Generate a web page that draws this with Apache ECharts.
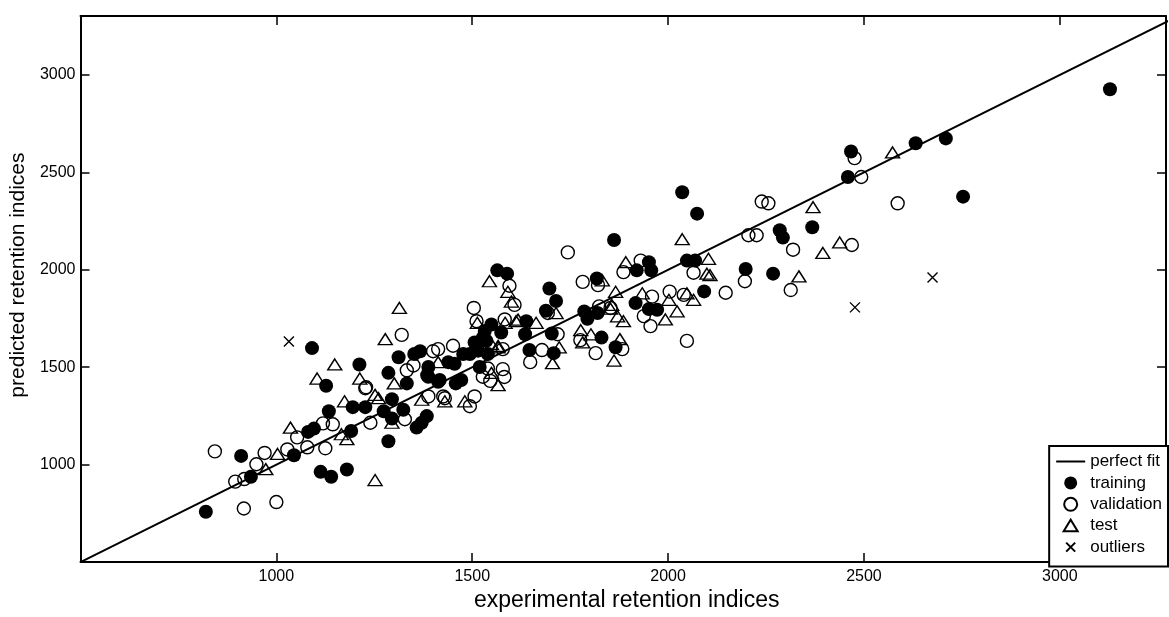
<!DOCTYPE html>
<html>
<head>
<meta charset="utf-8">
<script src="https://cdn.jsdelivr.net/npm/echarts@6/dist/echarts.min.js"></script>
<style>
html,body{margin:0;padding:0;background:#fff;}
#chart{width:1169px;height:617px;}
</style>
</head>
<body>
<div id="chart"></div>
<script>
// ---- data (experimental RI, predicted RI) ----
const xTickLabels = [1000, 1500, 2000, 2500, 3000];
const yTickLabels = [1000, 1500, 2000, 2500, 3000];
const perfectFit = [[500, 500], [3310, 3310]];

const training = [
  [820,758],[910,1045],[935,938],[1045,1048],[1081,1168],[1096,1185],[1113,963],[1140,938],
  [1180,975],[1134,1274],[1191,1173],[1286,1120],[1195,1295],[1227,1295],[1274,1274],[1295,1336],
  [1324,1282],[1295,1237],[1091,1598],[1212,1514],[1127,1405],[1286,1471],[1312,1551],[1352,1568],
  [1367,1582],[1388,1501],[1385,1459],[1413,1425],[1333,1417],[1439,1526],[1455,1518],[1458,1417],
  [1472,1434],[1519,1501],[1494,1568],[1506,1627],[1527,1652],[1549,1719],[1574,1678],[1384,1249],
  [1371,1215],[1358,1190],[1862,2153],[1564,1997],[1589,1980],[1697,1904],[1714,1840],[1688,1790],
  [1638,1736],[1635,1669],[1703,1673],[1646,1588],[1708,1572],[1786,1786],[1820,1778],[1794,1748],
  [1818,1955],[1830,1652],[1866,1602],[1515,1585],[1477,1568],[1536,1636],[1532,1686],[1417,1434],
  [1388,1451],[2074,2288],[2036,2398],[2285,2203],[1920,1997],[1951,2039],[1957,1997],[1917,1829],
  [1951,1798],[1972,1795],[2048,2047],[2069,2047],[2092,1889],[2198,2004],[2268,1980],[2467,2607],
  [2459,2476],[2293,2165],[2368,2218],[3128,2926],[2632,2649],[2709,2674],[2753,2375],[1540,1568]
];

const validation = [
  [843,1068],[917,775],[1000,808],[895,913],[918,926],[949,1002],[970,1060],[1028,1078],
  [1053,1140],[1079,1089],[1119,1212],[1125,1084],[1144,1207],[1240,1215],[1229,1397],[1320,1666],
  [1504,1804],[1595,1918],[1400,1582],[1413,1593],[1451,1610],[1333,1484],[1350,1509],[1430,1341],
  [1494,1300],[1506,1350],[1511,1736],[1583,1745],[1540,1493],[1546,1430],[1578,1490],[1582,1450],
  [1527,1451],[1227,1392],[1328,1233],[1426,1350],[1388,1350],[1744,2089],[1886,1988],[1608,1820],
  [1693,1778],[1678,1588],[1648,1526],[1718,1669],[1782,1938],[1821,1921],[1776,1639],[1815,1572],
  [1883,1593],[1578,1593],[2239,2350],[2256,2341],[2205,2177],[2226,2177],[1930,2047],[1853,1804],
  [1824,1812],[1959,1862],[1938,1762],[2004,1888],[1955,1711],[2040,1871],[2048,1635],[2065,1985],
  [2147,1882],[2196,1941],[2476,2573],[2493,2476],[2586,2341],[2319,2103],[2469,2127],[2313,1896]
];

const test = [
  [973,977],[1003,1055],[1036,1190],[1166,1156],[1180,1131],[1252,921],[1174,1325],[1278,1644],
  [1149,1514],[1104,1442],[1213,1442],[1301,1417],[1261,1341],[1252,1358],[1295,1215],[1314,1804],
  [1544,1941],[1413,1526],[1430,1325],[1481,1325],[1513,1728],[1549,1619],[1566,1610],[1549,1471],
  [1566,1408],[1371,1333],[1892,2039],[1591,1887],[1600,1837],[1714,1778],[1584,1728],[1612,1736],
  [1663,1728],[1832,1946],[1866,1887],[1856,1820],[1886,1736],[1871,1761],[1777,1690],[1803,1669],
  [1782,1627],[1877,1644],[1862,1534],[1705,1521],[2036,2157],[1853,1800],[1934,1879],[2002,1846],
  [1993,1745],[2023,1787],[2048,1879],[2065,1846],[2103,2056],[2099,1980],[2107,1972],[1722,1602],
  [1617,1744],[1566,1602],[2573,2602],[2370,2321],[2438,2140],[2395,2086],[2334,1966]
];

const outliers = [[1032,1632],[2477,1807],[2675,1960]];

// ---- chart ----
const FONT = 'Liberation Sans, Arial, Helvetica, sans-serif';
const chart = echarts.init(document.getElementById('chart'), null, {renderer: 'canvas'});

function labelFmt(list) {
  return function (v) { return list.indexOf(v) >= 0 ? String(v) : ''; };
}

const axisCommon = {
  type: 'value',
  interval: 500,
  splitLine: {show: false},
  axisLine: {show: true, onZero: false, lineStyle: {color: '#000', width: 2}},
  axisTick: {show: true, inside: true, length: 9, lineStyle: {color: '#000', width: 1.5}},
};

// legend icons (bounding box padded to itemWidth x itemHeight = 29 x 13)
const ICON_TRI = 'path://M0,0M29,13M7.5,12L14.5,0.5L21.5,12Z';
const ICON_X = 'path://M0,0M29,13M10,2L19,11M19,2L10,11';

const option = {
  animation: false,
  backgroundColor: '#fff',
  grid: {left: 78, right: 1, top: 16, bottom: 45, containLabel: false},
  xAxis: [
    Object.assign({}, axisCommon, {
      min: 500, max: 3271, position: 'bottom',
      name: 'experimental retention indices', nameLocation: 'middle', nameGap: 20,
      nameTextStyle: {fontFamily: FONT, fontSize: 23, color: '#000', padding: [0, 0, 0, 7]},
      axisLabel: {show: true, margin: 6, fontFamily: FONT, fontSize: 16, color: '#000',
        formatter: labelFmt(xTickLabels)}
    }),
    Object.assign({}, axisCommon, {
      min: 500, max: 3271, position: 'top', axisLabel: {show: false}
    })
  ],
  yAxis: [
    Object.assign({}, axisCommon, {
      min: 500, max: 3302, position: 'left',
      name: 'predicted retention indices', nameLocation: 'middle', nameGap: 43,
      nameTextStyle: {fontFamily: FONT, fontSize: 21, color: '#000', padding: [0, 0, 0, 28]},
      axisLabel: {show: true, margin: 5, fontFamily: FONT, fontSize: 16, color: '#000',
        formatter: labelFmt(yTickLabels)}
    }),
    Object.assign({}, axisCommon, {
      min: 500, max: 3302, position: 'right', axisLabel: {show: false}
    })
  ],
  legend: {
    orient: 'vertical', right: 1, top: 446,
    padding: [7, 6, 11, 6],
    itemWidth: 29, itemHeight: 13, itemGap: 4.4,
    borderColor: '#000', borderWidth: 2, backgroundColor: '#fff',
    textStyle: {fontFamily: FONT, fontSize: 17, color: '#000'},
    data: [
      {name: 'perfect fit', itemStyle: {opacity: 0, color: 'rgba(0,0,0,0)', borderWidth: 0}},
      {name: 'training'},
      {name: 'validation'},
      {name: 'test', icon: ICON_TRI},
      {name: 'outliers', icon: ICON_X}
    ]
  },
  series: [
    {
      name: 'perfect fit', type: 'line', data: perfectFit, symbol: 'none',
      lineStyle: {color: '#000', width: 2}, itemStyle: {color: '#000'}, silent: true, clip: true, z: 2
    },
    {
      name: 'training', type: 'scatter', data: training, symbol: 'circle', symbolSize: 14,
      itemStyle: {color: '#000', opacity: 1}, z: 3
    },
    {
      name: 'validation', type: 'scatter', data: validation, symbol: 'circle', symbolSize: 13,
      itemStyle: {color: 'rgba(255,255,255,0)', borderColor: '#000', borderWidth: 1.4, opacity: 1}, z: 4
    },
    {
      name: 'test', type: 'scatter', data: test, symbol: 'triangle', symbolSize: [14, 11],
      itemStyle: {color: 'rgba(255,255,255,0)', borderColor: '#000', borderWidth: 1.4, opacity: 1}, z: 5
    },
    {
      name: 'outliers', type: 'scatter', data: outliers, symbol: 'path://M0,0L10,10M10,0L0,10', symbolSize: 10,
      itemStyle: {color: 'rgba(255,255,255,0)', borderColor: '#000', borderWidth: 1.4, opacity: 1}, z: 6
    }
  ]
};
chart.setOption(option);
</script>
</body>
</html>
